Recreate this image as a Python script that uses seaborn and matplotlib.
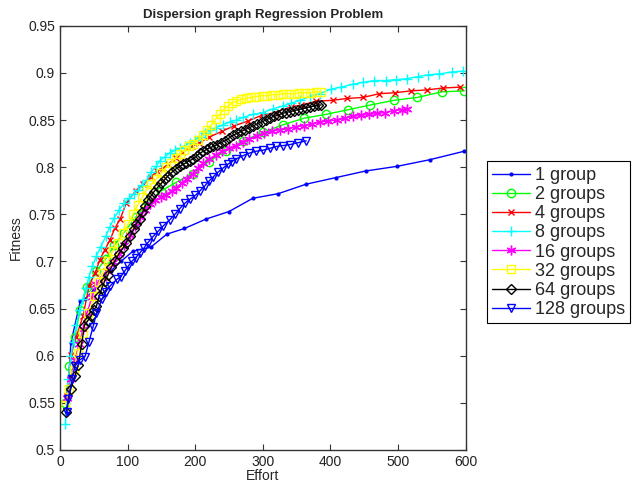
import matplotlib
matplotlib.use("Agg")
import matplotlib.pyplot as plt
import seaborn as sns
import pandas as pd

# ---------------- data ----------------
labels = ["1 group", "2 groups", "4 groups", "8 groups", "16 groups", "32 groups", "64 groups", "128 groups"]

g1_x = [10, 16, 30, 37, 50, 62, 75, 90, 108, 134, 158, 184, 216, 250, 285, 323, 364, 408, 452, 499, 547, 598]
g1_y = [0.539, 0.613, 0.658, 0.660, 0.670, 0.681, 0.690, 0.700, 0.711, 0.715, 0.729, 0.735, 0.745, 0.753,
        0.767, 0.772, 0.782, 0.789, 0.796, 0.801, 0.808, 0.817]

g2_x = [8, 14, 22, 30, 40, 54, 68, 80, 94, 112, 130, 150, 172, 196, 220, 245, 271, 300, 330, 361, 393, 426,
        459, 494, 528, 565, 598]
g2_y = [0.550, 0.589, 0.620, 0.649, 0.673, 0.690, 0.703, 0.717, 0.730, 0.747, 0.762, 0.775, 0.784, 0.793,
        0.806, 0.817, 0.828, 0.837, 0.845, 0.852, 0.856, 0.861, 0.866, 0.871, 0.874, 0.880, 0.881]

g4_x = [10, 16, 24, 34, 43, 52, 59, 66, 74, 81, 89, 98, 112, 123, 135, 143, 152, 160, 172, 180, 195, 206,
        221, 239, 258, 278, 298, 318, 341, 357, 379, 403, 425, 448, 472, 495, 519, 542, 566, 592]
g4_y = [0.557, 0.601, 0.620, 0.642, 0.674, 0.688, 0.702, 0.712, 0.723, 0.735, 0.745, 0.762, 0.775, 0.782,
        0.790, 0.796, 0.799, 0.803, 0.810, 0.816, 0.822, 0.826, 0.832, 0.838, 0.844, 0.849, 0.855, 0.858,
        0.864, 0.866, 0.870, 0.871, 0.873, 0.874, 0.878, 0.879, 0.881, 0.882, 0.884, 0.885]

g8_x = [8, 12, 16, 20, 24, 29, 34, 38, 43, 48, 54, 60, 68, 74, 80, 88, 95, 102, 110, 116, 122, 128, 135,
        142, 148, 155, 162, 170, 178, 185, 192, 200, 208, 215, 222, 231, 241, 251, 261, 271, 285, 300, 315,
        330, 342, 355, 370, 384, 401, 416, 433, 448, 465, 482, 497, 513, 529, 544, 561, 579, 596]
g8_y = [0.528, 0.575, 0.600, 0.615, 0.633, 0.648, 0.660, 0.672, 0.684, 0.695, 0.706, 0.715, 0.727, 0.737,
        0.746, 0.755, 0.762, 0.767, 0.772, 0.776, 0.781, 0.786, 0.795, 0.801, 0.807, 0.811, 0.815, 0.818,
        0.820, 0.823, 0.826, 0.829, 0.832, 0.836, 0.839, 0.842, 0.845, 0.848, 0.850, 0.853, 0.856, 0.858,
        0.862, 0.865, 0.868, 0.871, 0.875, 0.878, 0.883, 0.885, 0.888, 0.890, 0.892, 0.892, 0.893, 0.894,
        0.896, 0.898, 0.899, 0.901, 0.902]

g16_x = [10, 16, 22, 28, 34, 40, 47, 54, 62, 70, 79, 87, 95, 103, 111, 119, 126, 133, 141, 149, 157, 165,
         172, 180, 188, 196, 204, 212, 221, 230, 240, 250, 260, 270, 280, 291, 302, 313, 325, 337, 349, 361,
         373, 385, 397, 409, 421, 433, 445, 457, 469, 481, 494, 506, 513]
g16_y = [0.555, 0.575, 0.595, 0.612, 0.628, 0.645, 0.662, 0.676, 0.683, 0.690, 0.699, 0.708, 0.718, 0.728,
         0.738, 0.747, 0.755, 0.761, 0.765, 0.768, 0.771, 0.775, 0.778, 0.783, 0.788, 0.793, 0.799, 0.804,
         0.809, 0.813, 0.817, 0.820, 0.823, 0.827, 0.830, 0.833, 0.836, 0.838, 0.840, 0.841, 0.843, 0.844,
         0.846, 0.848, 0.849, 0.850, 0.852, 0.854, 0.855, 0.856, 0.857, 0.858, 0.860, 0.861, 0.862]

g32_x = [8, 14, 20, 26, 34, 42, 51, 58, 64, 71, 78, 86, 93, 101, 108, 115, 122, 128, 135, 143, 150, 157,
         164, 171, 177, 184, 191, 197, 204, 211, 218, 224, 230, 236, 242, 249, 255, 261, 268, 275, 282, 290,
         298, 306, 314, 322, 330, 338, 346, 354, 362, 370, 378, 386]
g32_y = [0.548, 0.565, 0.585, 0.603, 0.624, 0.645, 0.663, 0.678, 0.688, 0.700, 0.711, 0.720, 0.730, 0.740,
         0.750, 0.760, 0.768, 0.776, 0.782, 0.788, 0.794, 0.800, 0.805, 0.810, 0.814, 0.818, 0.822, 0.825,
         0.829, 0.834, 0.840, 0.845, 0.851, 0.856, 0.861, 0.865, 0.868, 0.870, 0.872, 0.873, 0.874, 0.875,
         0.876, 0.876, 0.877, 0.877, 0.878, 0.878, 0.878, 0.879, 0.879, 0.879, 0.880, 0.880]

g64_x = [9, 16, 22, 27, 32, 36, 41, 46, 50, 54, 58, 62, 66, 71, 76, 81, 87, 93, 98, 104, 109, 113, 118,
         122, 126, 130, 134, 139, 145, 150, 155, 160, 166, 171, 177, 182, 187, 192, 197, 202, 207, 212, 217,
         222, 227, 232, 238, 244, 250, 256, 262, 268, 274, 280, 286, 292, 298, 304, 310, 316, 322, 328, 334,
         340, 346, 352, 358, 364, 370, 376, 382, 386]
g64_y = [0.540, 0.565, 0.578, 0.590, 0.612, 0.632, 0.637, 0.642, 0.648, 0.653, 0.663, 0.672, 0.679, 0.686,
         0.694, 0.700, 0.708, 0.714, 0.720, 0.727, 0.734, 0.740, 0.745, 0.752, 0.759, 0.765, 0.769, 0.774,
         0.779, 0.783, 0.787, 0.791, 0.795, 0.798, 0.801, 0.803, 0.805, 0.807, 0.809, 0.812, 0.815, 0.817,
         0.819, 0.821, 0.822, 0.824, 0.826, 0.828, 0.831, 0.834, 0.836, 0.838, 0.840, 0.842, 0.844, 0.846,
         0.848, 0.850, 0.852, 0.854, 0.855, 0.857, 0.858, 0.859, 0.860, 0.861, 0.862, 0.863, 0.864, 0.865,
         0.866, 0.866]

g128_x = [10, 12, 18, 22, 30, 37, 43, 49, 54, 62, 68, 74, 84, 90, 96, 101, 106, 112, 118, 124, 130, 137,
          145, 153, 162, 170, 177, 185, 192, 200, 207, 214, 220, 227, 234, 241, 248, 254, 261, 270, 280, 290,
          300, 310, 320, 330, 340, 352, 364]
g128_y = [0.540, 0.554, 0.575, 0.589, 0.596, 0.599, 0.615, 0.631, 0.645, 0.660, 0.668, 0.674, 0.681, 0.684,
          0.690, 0.695, 0.700, 0.704, 0.709, 0.714, 0.720, 0.726, 0.732, 0.738, 0.744, 0.750, 0.756, 0.762,
          0.766, 0.770, 0.775, 0.780, 0.785, 0.790, 0.795, 0.799, 0.803, 0.806, 0.809, 0.812, 0.815, 0.817,
          0.818, 0.820, 0.822, 0.823, 0.824, 0.826, 0.828]

xs = [g1_x, g2_x, g4_x, g8_x, g16_x, g32_x, g64_x, g128_x]
ys = [g1_y, g2_y, g4_y, g8_y, g16_y, g32_y, g64_y, g128_y]

x_ticks = [0, 100, 200, 300, 400, 500, 600]
y_ticks = [0.5, 0.55, 0.6, 0.65, 0.7, 0.75, 0.8, 0.85, 0.9, 0.95]

# ---------------- styles ----------------
colors = ["#0000ff", "#00ff00", "#ff0000", "#00ffff", "#ff00ff", "#ffff00", "#000000", "#0000ff"]
markers = [".", "o", "x", "+", (6, 2, 0), "s", "D", "v"]
msizes = [4, 6, 5, 7, 7, 6, 5, 6]
hollow = [False, True, False, False, False, True, True, True]

sns.set_style("ticks")
plt.rcParams["font.family"] = ["Liberation Sans", "DejaVu Sans"]

fig = plt.figure(figsize=(6.34, 4.82), dpi=100)
ax = fig.add_axes([0.0946, 0.0664, 0.640, 0.880])

for i, lab in enumerate(labels):
    df = pd.DataFrame({"Effort": xs[i], "Fitness": ys[i]})
    kw = dict(color=colors[i], marker=markers[i], markersize=msizes[i], linewidth=1.0,
              markeredgecolor=colors[i], markeredgewidth=1.0)
    if hollow[i]:
        kw["markerfacecolor"] = "none"
    else:
        kw["markerfacecolor"] = colors[i]
    sns.lineplot(data=df, x="Effort", y="Fitness", ax=ax, label=lab, sort=False,
                 estimator=None, errorbar=None, **kw)

ax.set_xlim(0, 600)
ax.set_ylim(0.5, 0.95)
ax.set_xticks(x_ticks)
ax.set_xticklabels([str(t) for t in x_ticks])
ax.set_yticks(y_ticks)
ax.set_yticklabels(["0.5", "0.55", "0.6", "0.65", "0.7", "0.75", "0.8", "0.85", "0.9", "0.95"])
ax.tick_params(direction="in", top=True, right=True, labelsize=10, length=4, width=0.8, colors="#333333",
               labelcolor="#222222")
for s in ax.spines.values():
    s.set_linewidth(1.0)
    s.set_color("#333333")

ax.set_xlabel("Effort", fontsize=10, labelpad=0)
ax.set_ylabel("Fitness", fontsize=10, labelpad=4)
ax.set_title("Dispersion graph Regression Problem", fontsize=9.5, fontweight="bold", pad=6)

leg = ax.legend(loc="upper left", bbox_to_anchor=(0.768, 0.665), bbox_transform=fig.transFigure,
                fontsize=13, frameon=True, fancybox=False, edgecolor="black", framealpha=1,
                handlelength=2.1, handletextpad=0.25, labelspacing=0.12, borderpad=0.3,
                borderaxespad=0, numpoints=1)
leg.get_frame().set_linewidth(0.8)

fig.savefig("out.png", dpi=100)
